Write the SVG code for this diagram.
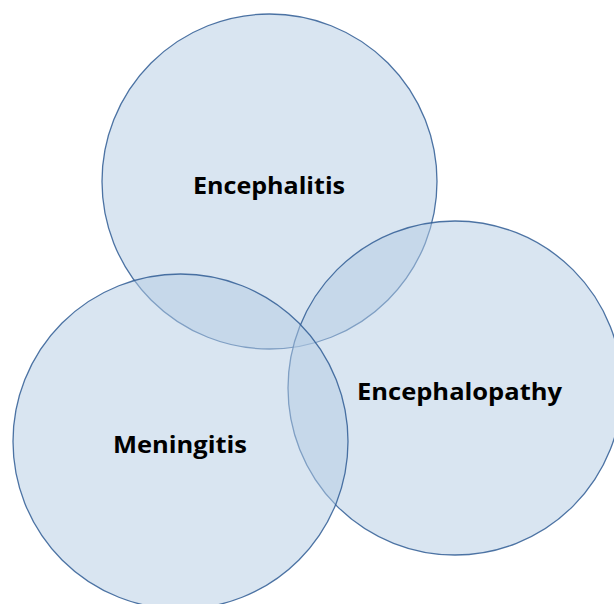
<svg xmlns="http://www.w3.org/2000/svg" width="614" height="604" viewBox="0 0 614 604">
  <style>
    .set { fill: #b4cbe4; fill-opacity: 0.5; stroke: #2f5c94; stroke-opacity: 0.85; stroke-width: 1.3; }
    .label { font-family: "Open Sans", "Liberation Sans", sans-serif; font-weight: bold; font-size: 24px; fill: #000; text-anchor: middle; }
  </style>
  <rect width="614" height="604" fill="#ffffff"/>
  <g id="encephalitis">
    <circle class="set" cx="269.5" cy="181.5" r="167.5"/>
    <text class="label" x="269" y="194" textLength="152" lengthAdjust="spacingAndGlyphs">Encephalitis</text>
  </g>
  <g id="encephalopathy">
    <circle class="set" cx="455" cy="388" r="167"/>
    <text class="label" x="459.5" y="400" textLength="205" lengthAdjust="spacingAndGlyphs">Encephalopathy</text>
  </g>
  <g id="meningitis">
    <circle class="set" cx="180.5" cy="441.5" r="167.5"/>
    <text class="label" x="180" y="453" textLength="134" lengthAdjust="spacingAndGlyphs">Meningitis</text>
  </g>
  <g id="connectors"/>
</svg>
